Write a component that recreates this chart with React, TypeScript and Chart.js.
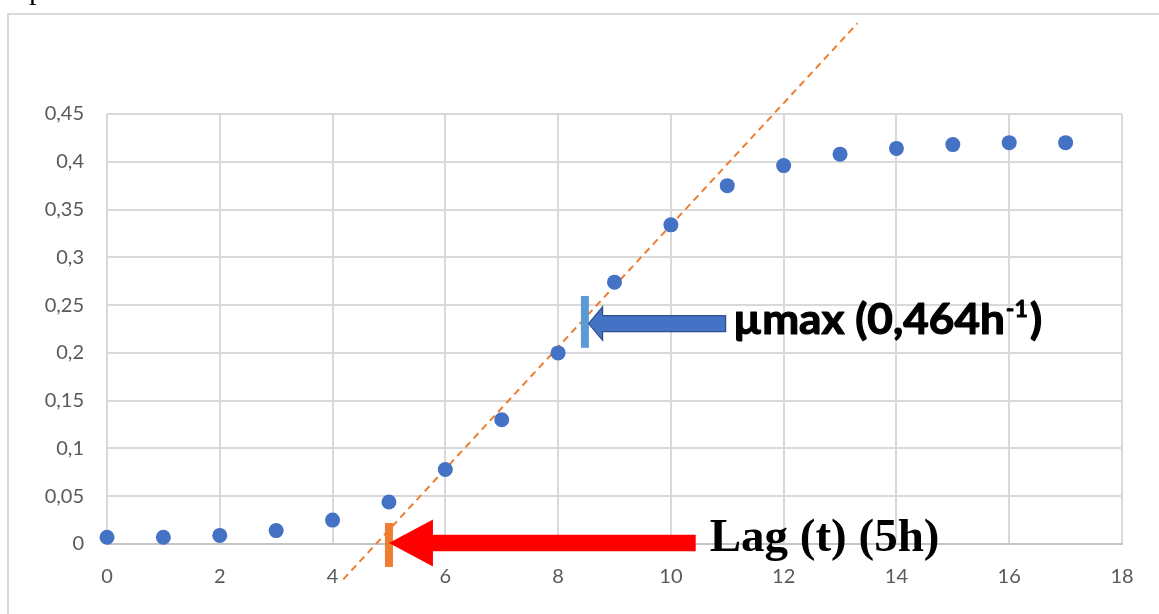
import React, { useEffect, useRef } from 'react';
import { Chart, registerables } from 'chart.js';

Chart.register(...registerables);

// ---- data ----
const hours = [0, 1, 2, 3, 4, 5, 6, 7, 8, 9, 10, 11, 12, 13, 14, 15, 16, 17];
const absorbance = [0.007, 0.007, 0.009, 0.014, 0.025, 0.044, 0.078, 0.13, 0.2, 0.274, 0.334, 0.375, 0.396, 0.408, 0.414, 0.418, 0.42, 0.42];

const trendX = [4.19, 13.31];
const trendY = [-0.037, 0.545];

const lagMarkX = [5, 5];
const lagMarkY = [0.022, -0.024];
const muMarkX = [8.475, 8.475];
const muMarkY = [0.2053, 0.2596];

const xTickValues = [0, 2, 4, 6, 8, 10, 12, 14, 16, 18];
const yTickValues = [0, 0.05, 0.1, 0.15, 0.2, 0.25, 0.3, 0.35, 0.4, 0.45];

// arrows: [tipX, tailX, centerY] in data units
const lagArrow = [5.0, 10.44, 0];
const muArrow = [8.54, 10.97, 0.2307];

const lagLabel = 'Lag (t) (5h)';
const muLabel = 'µmax (0,464h';
const muSup = '-1';
const muClose = ')';

const fmt = (v: number) => (Math.round(v * 100) / 100).toString().replace('.', ',');

function arrowLeft(ctx: CanvasRenderingContext2D, tx: number, ex: number, cy: number, headLen: number, headHalf: number, bodyHalf: number) {
  ctx.beginPath();
  ctx.moveTo(tx, cy);
  ctx.lineTo(tx + headLen, cy - headHalf);
  ctx.lineTo(tx + headLen, cy - bodyHalf);
  ctx.lineTo(ex, cy - bodyHalf);
  ctx.lineTo(ex, cy + bodyHalf);
  ctx.lineTo(tx + headLen, cy + bodyHalf);
  ctx.lineTo(tx + headLen, cy + headHalf);
  ctx.closePath();
}

function heavyText(ctx: CanvasRenderingContext2D, t: string, x: number, y: number) {
  ctx.fillText(t, x, y);
  ctx.strokeText(t, x, y);
}

const annotations = {
  id: 'annotations',
  beforeDraw(chart: any) {
    const ctx = chart.ctx as CanvasRenderingContext2D;
    ctx.save();
    ctx.strokeStyle = '#d9d9d9';
    ctx.lineWidth = 2;
    ctx.beginPath();
    ctx.moveTo(8, 14);
    ctx.lineTo(chart.width, 14);
    ctx.moveTo(8, 13);
    ctx.lineTo(8, chart.height);
    ctx.stroke();
    ctx.fillStyle = '#000';
    ctx.font = '30px "Liberation Serif"';
    ctx.textBaseline = 'alphabetic';
    ctx.fillText('p', 29, -1);
    ctx.restore();
  },
  afterDatasetsDraw(chart: any) {
    const ctx = chart.ctx as CanvasRenderingContext2D;
    const xs = chart.scales.x;
    const ys = chart.scales.y;
    ctx.save();

    // red lag arrow
    const rTip = xs.getPixelForValue(lagArrow[0]);
    const rTail = xs.getPixelForValue(lagArrow[1]);
    const rY = ys.getPixelForValue(lagArrow[2]) - 1;
    arrowLeft(ctx, rTip, rTail, rY, 44, 23.5, 8.3);
    ctx.fillStyle = '#FF0000';
    ctx.fill();

    // blue mu arrow
    const bTip = xs.getPixelForValue(muArrow[0]);
    const bTail = xs.getPixelForValue(muArrow[1]);
    const bY = ys.getPixelForValue(muArrow[2]);
    arrowLeft(ctx, bTip, bTail, bY, 14, 16.7, 8);
    ctx.fillStyle = '#4472C4';
    ctx.fill();
    ctx.strokeStyle = '#2F528F';
    ctx.lineWidth = 1.3;
    ctx.stroke();

    // lag text
    ctx.fillStyle = '#000';
    ctx.textBaseline = 'alphabetic';
    ctx.textAlign = 'left';
    ctx.font = 'bold 47px "Liberation Serif"';
    ctx.fillText(lagLabel, rTail + 14, rY + 8.4);

    // mu text (compressed horizontally to mimic a narrow heavy bold face)
    const S = 42;
    const sup = 22;
    ctx.font = `bold ${S}px Lato`;
    const w1 = ctx.measureText(muLabel).width;
    const w3 = ctx.measureText(muClose).width;
    ctx.font = `bold ${sup}px Lato`;
    const w2 = ctx.measureText(muSup).width;
    const k = 309 / (w1 + w2 + w3 + 3);
    const x0 = bTail + 7.5;
    const by = bY + 10;
    ctx.translate(x0, by);
    ctx.scale(k, 1);
    ctx.strokeStyle = '#000';
    ctx.lineJoin = 'round';
    ctx.lineWidth = 1.2;
    ctx.font = `bold ${S}px Lato`;
    heavyText(ctx, muLabel, 0, 0);
    ctx.lineWidth = 0.8;
    ctx.font = `bold ${sup}px Lato`;
    heavyText(ctx, muSup, w1 + 1, -16.5);
    ctx.lineWidth = 1.2;
    ctx.font = `bold ${S}px Lato`;
    heavyText(ctx, muClose, w1 + w2 + 3, 0);
    ctx.restore();
  },
};

export default function App() {
  const ref = useRef<HTMLCanvasElement>(null);
  useEffect(() => {
    if (!ref.current) return;
    const tickFont = { family: 'Lato', size: 20 };
    const chart = new Chart(ref.current, {
      type: 'scatter',
      data: {
        datasets: [
          {
            label: 'lag',
            type: 'line',
            data: lagMarkX.map((x, i) => ({ x, y: lagMarkY[i] })),
            borderColor: '#ED7D31',
            borderWidth: 8,
            borderCapStyle: 'butt',
            pointRadius: 0,
            clip: false,
          } as any,
          {
            label: 'mu',
            type: 'line',
            data: muMarkX.map((x, i) => ({ x, y: muMarkY[i] })),
            borderColor: '#5B9BD5',
            borderWidth: 8,
            borderCapStyle: 'butt',
            pointRadius: 0,
            clip: false,
          } as any,
          {
            label: 'absorbance',
            data: hours.map((x, i) => ({ x, y: absorbance[i] })),
            backgroundColor: '#4472C4',
            borderWidth: 0,
            pointRadius: 7.5,
            pointHoverRadius: 7.5,
            clip: false,
          } as any,
          {
            label: 'trend',
            type: 'line',
            data: trendX.map((x, i) => ({ x, y: trendY[i] })),
            borderColor: '#ED7D31',
            borderWidth: 2,
            borderDash: [7, 5],
            pointRadius: 0,
            clip: false,
          } as any,
        ],
      },
      options: {
        responsive: false,
        animation: false,
        devicePixelRatio: 1,
        layout: { padding: { left: 0, top: 114, right: 37, bottom: 0 } },
        plugins: { legend: { display: false }, tooltip: { enabled: false } },
        scales: {
          x: {
            type: 'linear',
            min: 0,
            max: 18,
            afterFit: (s: any) => { s.height = 70; },
            afterBuildTicks: (s: any) => { s.ticks = xTickValues.map((v) => ({ value: v })); },
            ticks: { font: tickFont, color: '#595959', padding: 21, callback: (v: any) => String(v) },
            grid: { color: '#d9d9d9', lineWidth: 2, drawTicks: false },
            border: { color: '#c4c4c4', width: 2 },
          },
          y: {
            type: 'linear',
            min: 0,
            max: 0.45,
            afterFit: (s: any) => { s.width = 107; },
            afterBuildTicks: (s: any) => { s.ticks = yTickValues.map((v) => ({ value: v })); },
            ticks: { font: tickFont, color: '#595959', padding: 23, callback: (v: any) => fmt(Number(v)) },
            grid: { color: '#d9d9d9', lineWidth: 2, drawTicks: false },
            border: { display: false },
          },
        },
      },
      plugins: [annotations],
    } as any);
    return () => chart.destroy();
  }, []);
  return (
    <div style={{ position: 'absolute', left: 0, top: 0, width: 1159, height: 614, overflow: 'hidden', background: '#fff' }}>
      <canvas ref={ref} width={1159} height={614} style={{ display: 'block', width: 1159, height: 614 }} />
    </div>
  );
}
